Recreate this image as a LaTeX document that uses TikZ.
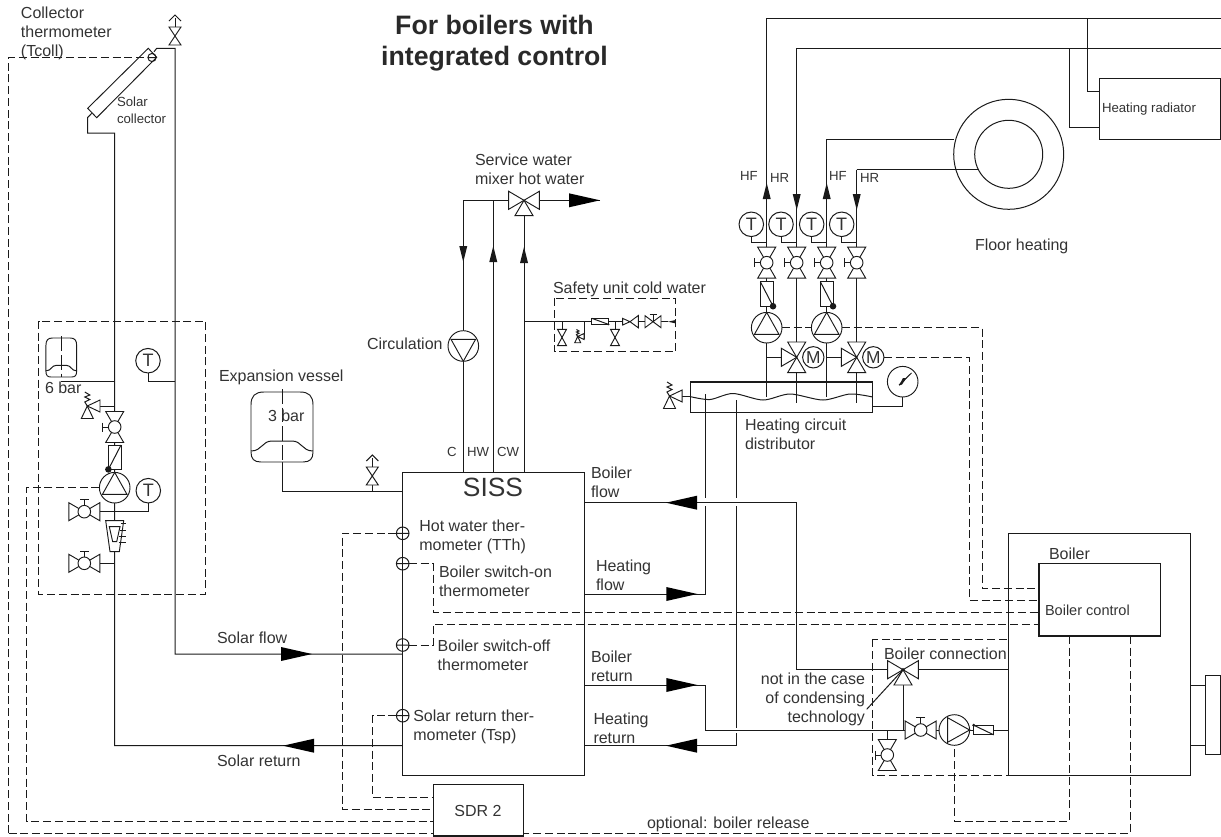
\documentclass[tikz,border=0pt]{standalone}
\usepackage{fontspec}
\setmainfont{Liberation Sans}
\usetikzlibrary{fit}
\definecolor{txt}{HTML}{333333}
\definecolor{ln}{HTML}{1A1A1A}
\tikzset{
  x=0.75pt,y=-0.75pt,
  pipe/.style={draw=ln,line width=0.75pt},
  sym/.style={draw=ln,line width=0.7pt,fill=white},
  ctl/.style={draw=ln,line width=0.75pt,dash pattern=on 6pt off 2.8pt},
  boxn/.style={draw=ln,line width=0.8pt,inner sep=0pt,outer sep=0pt},
  lbl/.style={anchor=west,inner sep=0pt,outer sep=0pt,text=txt,align=left,font=\fontsize{12}{14.25}\selectfont},
  lblr/.style={lbl,anchor=east,align=right},
  lbls/.style={lbl,font=\fontsize{9.9}{12.6}\selectfont},
  tsens/.style={circle,draw=ln,line width=0.75pt,fill=white,minimum size=18.4pt,inner sep=0pt,outer sep=0pt,text=txt,font=\fontsize{13.5}{14}\selectfont},
  motor/.style={tsens,minimum size=16pt,font=\fontsize{13}{14}\selectfont},
  ballv/.pic={
    \draw[sym] (-9,-15.5)--(9,-15.5)--(0,0)--cycle;
    \draw[sym] (-9,15.5)--(9,15.5)--(0,0)--cycle;
    \draw[sym] (-6.3,0)--(-12.3,0) (-12.3,-4.5)--(-12.3,4.5);
    \draw[sym] (0,0) circle[radius=6.3];},
  mixv/.pic={
    \draw[sym] (-9,-15.3)--(9,-15.3)--(0,0)--cycle;
    \draw[sym] (-9,15.3)--(9,15.3)--(0,0)--cycle;
    \draw[sym] (-15.3,-9)--(-15.3,9)--(0,0)--cycle;},
  bowv/.pic={
    \draw[sym] (-6,-9)--(6,-9)--(0,0)--cycle;
    \draw[sym] (-6,9)--(6,9)--(0,0)--cycle;},
  vent/.pic={
    \draw[sym] (-6,-9)--(6,-9)--(0,0)--cycle;
    \draw[sym] (-6,9)--(6,9)--(0,0)--cycle;
    \draw[pipe] (0,-9)--(0,-18);
    \draw[pipe] (-6,-15)--(0,-21)--(6,-15);},
  pumpv/.pic={
    \draw[sym] (0,0) circle[radius=15.3];
    \draw[sym] (0,-15.3)--(-12.3,6.7)--(12.3,6.7)--cycle;},
  checkv/.pic={
    \draw[sym] (-6.3,-12.2) rectangle (6.3,12.2);
    \draw[pipe] (-6.3,-12.2)--(6.3,12.2);
    \fill[ln] (6.3,12.2) circle[radius=3.3];},
  checkh/.pic={
    \draw[sym] (-10,-4.8) rectangle (10,4.8);
    \draw[pipe] (-10,-4.8)--(10,4.8);
    \fill[ln] (-10,-4.8) circle[radius=1.6];},
  svalve/.pic={
    \draw[sym] (0,0)--(12.7,-6)--(12.7,6)--cycle;
    \draw[sym] (0,0)--(-6,12.5)--(6,12.5)--cycle;
    \draw[pipe,fill=none] (0,0)--(-2.5,-4)--(2.5,-6.5)--(-2.5,-9)--(2.5,-11)--(-2.5,-14);},
  vessel/.pic={
    \draw[sym] (-31,-22) .. controls (-31,-31) and (-27,-35) .. (-18,-35) -- (18,-35)
      .. controls (27,-35) and (31,-31) .. (31,-22) -- (31,25)
      .. controls (31,32) and (28,35) .. (21,35) -- (-21,35)
      .. controls (-28,35) and (-31,32) .. (-31,25) -- cycle;
    \draw[pipe,fill=none] (-31,24) .. controls (-20,24) and (-20,14) .. (-10,14) -- (10,14)
      .. controls (20,14) and (20,24) .. (31,24);
    \draw[ln,line width=0.7pt,dash pattern=on 11pt off 3pt] (0,-38)--(0,35);},
  probe/.pic={
    \draw[draw=ln,line width=0.75pt] (0,0) circle[radius=6.3] (-6.3,0)--(6.3,0);},
  bigar/.pic={\fill[black] (0,0)--(-31,-7)--(-31,7)--cycle;},
  smar/.pic={\fill[black!90] (0,0)--(-16,-4)--(-16,4)--cycle;},
}
\begin{document}
\begin{tikzpicture}
\useasboundingbox (0,0) rectangle (1221,836);

% ---------- boxes
\node[boxn,fit={(402.7,472.7)(584.3,775.3)}] (siss) {};
\node[boxn,fit={(433.3,784.7)(523.7,836)}] (sdr) {};
\node[boxn,fit={(1008.3,533.7)(1190.7,775.7)}] (boiler) {};
\node[boxn,fit={(1039,563.7)(1160.3,636)}] (ctrl) {};
\node[boxn,fit={(1205.3,675.7)(1220.7,754.3)}] (burner) {};
\node[boxn,fit={(1099.3,78.7)(1221,139.3)}] (radiator) {};
\node[boxn,fit={(690.7,382)(872.7,412.3)}] (dist) {};

% ---------- named points of the pipework
\foreach \n/\x in {pa/766.7,pb/796.7,pc/826.7,pd/856.7}{\coordinate (\n) at (\x,0);}
\coordinate (solF) at (175,48.3);
\coordinate (solR) at (114.7,133);
\coordinate (floor) at (1008.7,154.3);

% ---------- solar circuit
\draw[pipe] (154,51.7)--(156.7,48.3)--(solF)--(175,654)--(siss.west |- 0,654);
\draw[pipe] (91.7,113.3)--(87.5,117.7)--(87.5,133)--(solR)--(114.7,745.7)--(siss.west |- 0,745.7);
\draw[sym] (148.3,48.3)--(156.7,57.3)--(96.7,117.7)--(87.7,108.3)--cycle;
\draw[pipe] (61.3,381.7)--(114.7,381.7);
\draw[pipe] (148,372.7)--(148,381.7)--(175,381.7);
\draw[pipe] (100,406)--(114.7,406);
\draw[pipe] (148.3,503)--(148.3,511.7)--(84.3,511.7);
\draw[pipe] (84.3,563.3)--(114.7,563.3);
\draw[ctl] (38.5,321) rectangle (205.6,594);

% ---------- service water
\draw[pipe] (463.3,472.7)--(463.3,200.3)--(524,200.3)--(siss.north -| 524,0);
\draw[pipe] (493.3,472.7)--(493.3,200.3);
\draw[pipe] (524,200.3)--(600,200.3);
\draw[pipe] (524,321.7)--(668,321.7);
\draw[pipe] (282,462)--(282,491)--(siss.west |- 0,491);
\draw[pipe] (372.3,485)--(372.3,491);

% ---------- heating pipes
\draw[pipe] (pa |- 0,18)--(1221,18);
\draw[pipe] (pb |- 0,48.3)--(1221,48.3);
\draw[pipe] (1087.3,18)--(1087.3,91)--(radiator.west |- 0,91);
\draw[pipe] (1069.7,48.3)--(1069.7,127)--(radiator.west |- 0,127);
\draw[pipe] (pc |- 0,139.3)--(953.7,139.3);
\draw[pipe] (pd |- 0,169.7)--(978.3,169.7);
\draw[pipe] (pa |- 0,18)--(pa |- 0,397);
\draw[pipe] (pb |- 0,48.3)--(pb |- 0,403);
\draw[pipe] (pc |- 0,139.3)--(pc |- 0,397);
\draw[pipe] (pd |- 0,169.7)--(pd |- 0,403);
\draw[pipe] (pa |- 0,357.3)--(781.4,357.3);
\draw[pipe] (pc |- 0,357.3)--(841.4,357.3);

\draw[pipe] (705.7,394)--(705.7,498);
\draw[pipe] (705.7,506)--(705.7,594)--(siss.east |- 0,594);
\draw[pipe] (736,400)--(736,498);
\draw[pipe] (736,506)--(736,727.5);
\draw[pipe] (736,733.3)--(736,745.7)--(siss.east |- 0,745.7);
\draw[pipe] (siss.east |- 0,502.7)--(796.3,502.7)--(796.3,669.7)--(887.7,669.7);
\draw[pipe] (siss.east |- 0,685)--(705.7,685)--(705.7,730)--(1008.7,730);
\draw[pipe] (918.3,669.7)--(1008.7,669.7);
\draw[pipe] (903,685)--(903,730);
\draw[pipe] (887.3,730)--(887.3,739.5);
\draw[pipe] (boiler.east |- 0,685)--(burner.west |- 0,685);
\draw[pipe] (boiler.east |- 0,745.7)--(burner.west |- 0,745.7);
\draw[pipe] (dist.east |- 0,406.7)--(902.7,406.7)--(902.7,397);
\draw[pipe] plot[smooth] coordinates {(690.7,396.7)(710,399.5)(733,393.5)(763,400)(790,394)(823,400)(850,394)(872.7,397)};
\draw[pipe] (682,396)--(dist.west |- 0,396);

% ---------- control lines
\draw[ctl] (8.5,833.3)--(8.5,57.5)--(148,57.5);
\draw[ctl] (8.5,833.3)--(sdr.west |- 0,833.3);
\draw[ctl] (99.4,487.7)--(26.7,487.7)--(26.7,821)--(sdr.west |- 0,821);
\draw[ctl] (396.4,533.3)--(342,533.3)--(342,809.3)--(sdr.west |- 0,809.3);
\draw[ctl] (396.4,715.7)--(372.7,715.7)--(372.7,797)--(sdr.west |- 0,797);
\draw[ctl] (409,563.7)--(433.3,563.7)--(433.3,612)--(ctrl.west |- 0,612);
\draw[ctl] (409,645)--(433.3,645)--(433.3,624.3)--(ctrl.west |- 0,624.3);
\draw[ctl] (782,327.7)--(811.4,327.7);
\draw[ctl] (842,327.7)--(982,327.7)--(982,588.3)--(ctrl.west |- 0,588.3);
\draw[ctl] (884,357.3)--(969,357.3)--(969,600)--(ctrl.west |- 0,600);
\draw[ctl] (1069.3,636)--(1069.3,821)--(954.3,821)--(954.3,745.3);
\draw[ctl] (1130,636)--(1130,833.3)--(sdr.east |- 0,833.3);
\draw[ctl] (872.7,639.3) rectangle (1008.7,775.7);
\draw[ctl] (554,298.3) rectangle (675.7,351.7);

% ---------- floor heating
\draw[ln,line width=0.75pt] (floor) circle[radius=55] (floor) circle[radius=34];

% ---------- symbols: solar
\pic[scale=.65] at (152,57.5) {probe};
\pic at (175,36) {vent};
\pic[xscale=.495,yscale=.557] at (61.3,357.5) {vessel};
\pic at (87.3,406) {svalve};
\pic at (114.7,427) {ballv};
\pic[xscale=-1] at (114.7,457.2) {checkv};
\pic at (114.7,487.7) {pumpv};
\pic[rotate=-90] at (84.3,511.7) {ballv};
\pic[rotate=-90] at (84.3,563.3) {ballv};
\draw[sym] (105.7,520.7)--(123.7,520.7)--(119.3,551.7)--(110,551.7)--cycle;
\draw[sym] (109.3,526.7)--(120,526.7)--(116.7,541.7)--(112.7,541.7)--cycle;
\draw[pipe] (120.8,523.3)--(125.5,523.3) (120.3,530)--(125.5,530) (119.4,536.7)--(125.5,536.7) (118.5,542)--(125.5,542);
\node[tsens] (tA) at (148,360.7) {T};
\node[tsens] (tB) at (148.3,490.7) {T};

% ---------- symbols: storage
\pic at (282,427) {vessel};
\pic at (372.3,476) {vent};
\foreach \y in {533.3,563.7,645,715.7}{\pic at (402.7,\y) {probe};}
\pic[rotate=180] at (463.3,346) {pumpv};
\pic[rotate=90] at (524,200.3) {mixv};

% ---------- symbols: safety unit
\pic[xscale=.75,yscale=.91] at (562,337.5) {bowv};
\pic[xscale=.75,yscale=.91] at (615,337.5) {bowv};
\draw[pipe] (562,321.7)--(562,329.3) (615,321.7)--(615,329.3);
\draw[pipe] (584.3,321.7)--(584.3,338)--(581,338);
\pic[scale=.5] at (577.7,336.5) {svalve};
\pic[rotate=180,xscale=.83,yscale=.63] at (600,321.3) {checkh};
\draw[sym] (622.7,318.4)--(622.7,325)--(630,321.7)--cycle;
\draw[sym] (638.3,315.5)--(638.3,327.8)--(630,321.7)--cycle;
\draw[sym] (645,315.7)--(645,327.7)--(653,321.7)--cycle;
\draw[sym] (661,315.7)--(661,327.7)--(653,321.7)--cycle;
\draw[pipe] (653,321.7)--(653,314.3) (649.5,314.3)--(656.5,314.3);
\fill[ln] (668,321.7)--(675.7,320)--(675.7,323.4)--cycle;

% ---------- symbols: heating group
\foreach \n in {pa,pb,pc,pd}{\pic at (\n |- 0,262.7) {ballv};}
\pic at (pa |- 0,294) {checkv};
\pic at (pc |- 0,294) {checkv};
\pic at (pa |- 0,327.7) {pumpv};
\pic at (pc |- 0,327.7) {pumpv};
\pic at (pb |- 0,357.3) {mixv};
\pic at (pd |- 0,357.3) {mixv};
\node[motor] (mA) at (813.3,357.3) {M};
\node[motor] (mB) at (873.3,357.3) {M};
\draw[sym] (902.7,381.7) circle[radius=15.3];
\fill[ln] (899,385.5)--(903,378)--(906.5,378)--(902,384.5)--cycle;
\draw[pipe] (899,385)--(911.5,373);
\node[tsens] (tC) at (751.3,224.3) {T};
\node[tsens] (tD) at (781,224.3) {T};
\node[tsens] (tE) at (811.7,224.3) {T};
\node[tsens] (tF) at (841.7,224.3) {T};
\draw[pipe] (tC.south)--(751.3,242.3)--(pa |- 0,242.3);
\draw[pipe] (tD.south)--(781,242.3)--(pb |- 0,242.3);
\draw[pipe] (tE.south)--(811.7,242.3)--(pc |- 0,242.3);
\draw[pipe] (tF.south)--(841.7,242.3)--(pd |- 0,242.3);
\pic at (669.5,396) {svalve};

% ---------- symbols: boiler connection
\pic[rotate=90] at (903,669.7) {mixv};
\draw[pipe] (903,669.7)--(866.7,709.3);
\fill[ln] (903,669.7) circle[radius=1.8];
\pic at (887.3,755) {ballv};
\pic[rotate=-90] at (920.7,730) {ballv};
\pic[rotate=-90] at (954.3,730) {pumpv};
\pic at (983.7,730) {checkh};

% ---------- flow arrows
\pic at (312,654) {bigar};
\pic[rotate=180] at (283,745.7) {bigar};
\pic at (600,200.3) {bigar};
\pic[rotate=180] at (666,502.7) {bigar};
\pic at (697.3,594) {bigar};
\pic at (697.3,685) {bigar};
\pic[rotate=180] at (666,745.7) {bigar};
\pic[rotate=-90] at (463.3,262) {smar};
\pic[rotate=90] at (493.3,246) {smar};
\pic[rotate=90] at (524,247) {smar};
\pic[rotate=90] at (pa |- 0,183) {smar};
\pic[rotate=-90] at (pb |- 0,210) {smar};
\pic[rotate=90] at (pc |- 0,183) {smar};
\pic[rotate=-90] at (pd |- 0,210) {smar};

% ---------- texts
\node[anchor=center,inner sep=0pt,text=txt!80!black,align=center,font=\fontsize{20}{23.3}\selectfont\bfseries] (title) at (494.5,43.5) {For boilers with\\integrated control};
\node[lbl] (tColl) at (21,33.5) {Collector\\thermometer\\(Tcoll)};
\node[lbls] (tSolc) at (117,110.5) {Solar\\collector};
\node[lbl] (tSix) at (45,388) {6 bar};
\node[lbl] (tThree) at (268,416) {3 bar};
\node[lbl] (tExp) at (219,377) {Expansion vessel};
\node[lbl] (tSf) at (217,638) {Solar flow};
\node[lbl] (tSr) at (217,761) {Solar return};
\node[lbl] (tCirc) at (367,344) {Circulation};
\node[lbl] (tMix) at (475,169.5) {Service water\\mixer hot water};
\node[lbl] (tSafe) at (553,289) {Safety unit cold water};
\node[lbls] (tC1) at (447,451.5) {C};
\node[lbls] (tHW) at (467,451.5) {HW};
\node[lbls] (tCW) at (497,451.5) {CW};
\node[anchor=center,inner sep=0pt,text=txt,font=\fontsize{19.8}{22}\selectfont] (tSiss) at (493,487) {SISS};
\node[lbl] (tH) at (419.3,537.2) {Hot water ther-\\mometer (TTh)};
\node[lbl] (tOn) at (439,581) {Boiler switch-on\\thermometer};
\node[lbl] (tOff) at (437.7,655.5) {Boiler switch-off\\thermometer};
\node[lbl] (tSp) at (413.3,726.7) {Solar return ther-\\mometer (Tsp)};
\node[lbl] (tBf) at (591,482.3) {Boiler\\flow};
\node[lbl] (tHf) at (596,575.5) {Heating\\flow};
\node[lbl] (tBr) at (591,666.5) {Boiler\\return};
\node[lbl] (tHr) at (593.5,728.5) {Heating\\return};
\node[lbl] (tDist) at (745,434.5) {Heating circuit\\distributor};
\node[lbl] (tFloor) at (975,246) {Floor heating};
\node[lbls] (tRad) at (1102,109.5) {Heating radiator};
\node[lbls] (hfA) at (740,176) {HF};
\node[lbls] (hrA) at (770,178) {HR};
\node[lbls] (hfB) at (829,176) {HF};
\node[lbls] (hrB) at (860,178) {HR};
\node[lbl] (tBoil) at (1049,554) {Boiler};
\node[lbl,font=\fontsize{10.9}{13}\selectfont] (tCtrl) at (1045,610) {Boiler control};
\node[lbl] (tConn) at (884,653.3) {Boiler connection};
\node[lblr] (tNot) at (865,699) {not in the case\\of condensing\\technology};
\node[anchor=center,inner sep=0pt,text=txt,font=\fontsize{12}{14}\selectfont] (tSdr) at (478,811) {SDR 2};
\node[lbl] (tOpt) at (647,824) {optional: boiler release};
\end{tikzpicture}
\end{document}
